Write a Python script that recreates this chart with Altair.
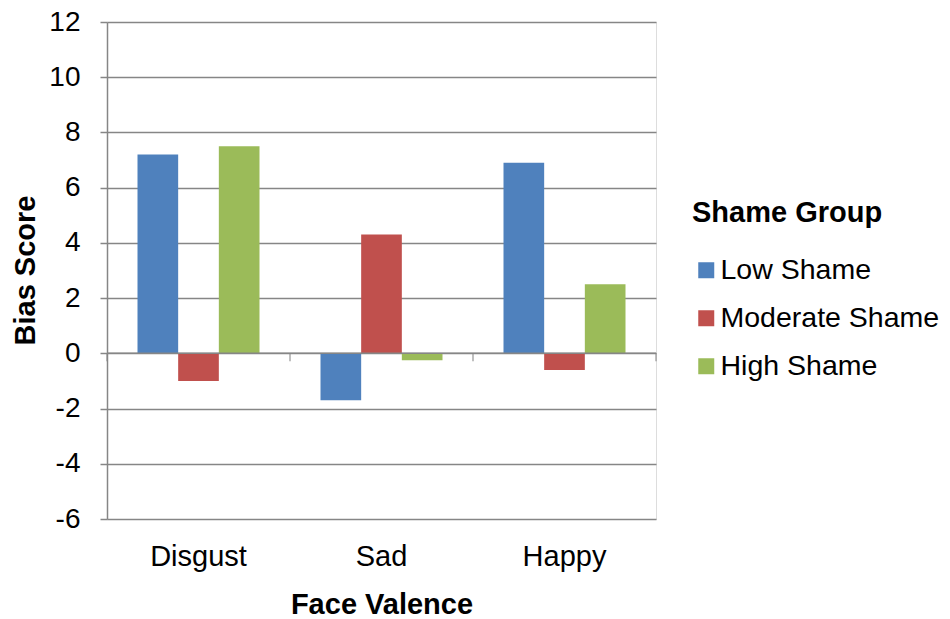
import altair as alt
import pandas as pd

categories = ["Disgust", "Sad", "Happy"]
groups = ["Low Shame", "Moderate Shame", "High Shame"]
low_shame = [7.2, -1.7, 6.9]
moderate_shame = [-1.0, 4.3, -0.6]
high_shame = [7.5, -0.25, 2.5]
colors = ["#4F81BD", "#C0504D", "#9BBB59"]
y_ticks = [-6, -4, -2, 0, 2, 4, 6, 8, 10, 12]

rows = []
for g, vals in zip(groups, [low_shame, moderate_shame, high_shame]):
    for c, v in zip(categories, vals):
        rows.append({"Face Valence": c, "Shame Group": g, "Bias Score": v})
df = pd.DataFrame(rows)

FONT = "Liberation Sans"
GRAY = "#868686"
FS = 29

x_enc = alt.X(
    "Face Valence:N",
    sort=categories,
    scale=alt.Scale(paddingInner=0, paddingOuter=0),
    axis=alt.Axis(
        title="Face Valence",
        domain=False,
        ticks=False,
        grid=False,
        labelAngle=0,
        labelPadding=23,
        labelFontSize=FS,
        labelFont=FONT,
        labelColor="#000000",
        titleFont=FONT,
        titleFontSize=FS,
        titleFontWeight="bold",
        titleColor="#000000",
        titleY=85,
        titleBaseline="middle",
    ),
)

bars = alt.Chart(df).mark_bar().encode(
    x=x_enc,
    xOffset=alt.XOffset(
        "Shame Group:N",
        sort=groups,
        scale=alt.Scale(paddingInner=0, paddingOuter=0.75),
    ),
    y=alt.Y(
        "Bias Score:Q",
        scale=alt.Scale(domain=[-6, 12], nice=False, zero=False),
        axis=alt.Axis(
            title="Bias Score",
            values=y_ticks,
            labelExpr="'' + datum.value",
            grid=True,
            gridColor=GRAY,
            gridWidth=1.5,
            domainColor=GRAY,
            domainWidth=1.5,
            tickColor=GRAY,
            tickWidth=1.5,
            tickSize=7,
            labelPadding=20,
            labelFontSize=28,
            labelFont=FONT,
            labelColor="#000000",
            titleFont=FONT,
            titleFontSize=FS,
            titleFontWeight="bold",
            titleColor="#000000",
            titleX=-82,
            titleY=248,
            titleAngle=270,
            titleBaseline="middle",
            titleAlign="center",
        ),
    ),
    color=alt.Color(
        "Shame Group:N",
        sort=groups,
        scale=alt.Scale(domain=groups, range=colors),
        legend=alt.Legend(
            title="Shame Group",
            orient="none",
            legendX=585,
            legendY=177,
            titleFont=FONT,
            titleFontSize=FS,
            titleFontWeight="bold",
            titleColor="#000000",
            titlePadding=28,
            titleLimit=0,
            labelFont=FONT,
            labelFontSize=28.5,
            labelColor="#000000",
            labelLimit=0,
            labelOffset=0,
            symbolType="square",
            symbolSize=256,
            symbolStrokeWidth=0,
            rowPadding=19,
        ),
    ),
)

zero_df = pd.DataFrame({"v": [0]})
zero_line = alt.Chart(zero_df).mark_rule(color=GRAY, strokeWidth=1.5).encode(
    y=alt.Y("v:Q")
)

tick_df = pd.DataFrame({"Face Valence": categories})
tick_start = alt.Chart(tick_df).mark_tick(
    color=GRAY, thickness=1.5, size=8, orient="vertical", yOffset=4
).encode(
    x=alt.X("Face Valence:N", sort=categories, bandPosition=0),
    y=alt.datum(0),
)
tick_end = alt.Chart(pd.DataFrame({"Face Valence": categories[-1:]})).mark_tick(
    color=GRAY, thickness=1.5, size=8, orient="vertical", yOffset=4
).encode(
    x=alt.X("Face Valence:N", sort=categories, bandPosition=1),
    y=alt.datum(0),
)

chart = (
    alt.layer(bars, zero_line, tick_start, tick_end)
    .properties(
        width=549,
        height=497,
        autosize=alt.AutoSizeParams(type="none"),
        padding={"left": 99, "top": 14, "right": 286, "bottom": 100},
    )
    .configure_view(stroke=None)
    .configure(background="#ffffff")
)

chart.save("out.html", embed_options={"renderer": "svg", "actions": False})
